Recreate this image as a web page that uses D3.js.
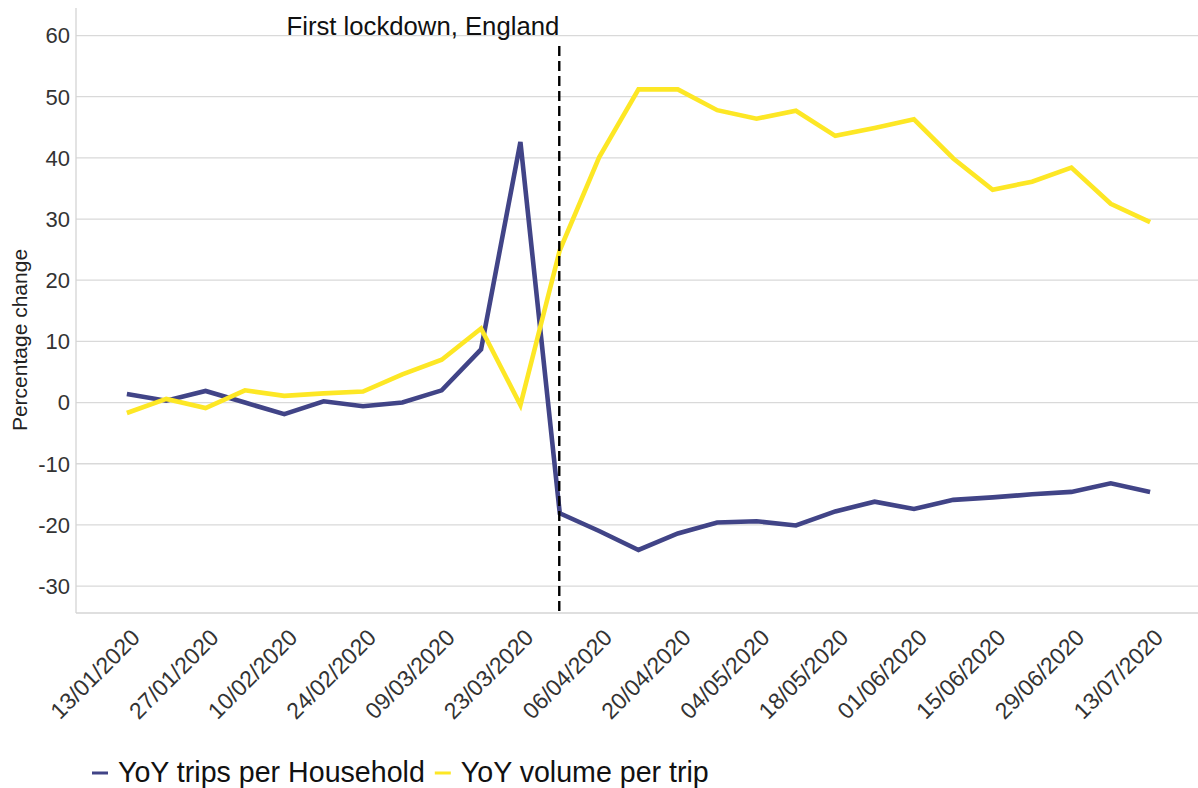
<!DOCTYPE html>
<html>
<head>
<meta charset="utf-8">
<script src="https://cdn.jsdelivr.net/npm/d3@7"></script>
<style>
  html, body { margin: 0; padding: 0; background: #fff; }
  svg { display: block; font-family: "Liberation Sans", Arial, Helvetica, sans-serif; }
</style>
</head>
<body>
<svg id="chart" width="1198" height="788"></svg>
<script>
// ---- Data ----
const weeks = ["13/01/2020","20/01/2020","27/01/2020","03/02/2020","10/02/2020","17/02/2020","24/02/2020",
  "02/03/2020","09/03/2020","16/03/2020","23/03/2020","30/03/2020","06/04/2020","13/04/2020","20/04/2020",
  "27/04/2020","04/05/2020","11/05/2020","18/05/2020","25/05/2020","01/06/2020","08/06/2020","15/06/2020",
  "22/06/2020","29/06/2020","06/07/2020","13/07/2020"];
const tripsPerHousehold = [1.4, 0.3, 1.9, 0.0, -1.9, 0.2, -0.6, 0.0, 2.0, 8.7, 42.6, -18.1, -21.0, -24.1, -21.4,
  -19.6, -19.4, -20.1, -17.8, -16.2, -17.4, -15.9, -15.5, -15.0, -14.6, -13.2, -14.6];
const volumePerTrip = [-1.7, 0.6, -0.9, 2.0, 1.1, 1.5, 1.8, 4.6, 7.0, 12.1, -0.4, 24.9, 40.1, 51.2, 51.2,
  47.8, 46.4, 47.7, 43.6, 44.9, 46.3, 39.9, 34.8, 36.1, 38.4, 32.5, 29.5];
const tickLabels = weeks.filter((d, i) => i % 2 === 0);
const yTicks = [-30, -20, -10, 0, 10, 20, 30, 40, 50, 60];
const seriesNames = ["YoY trips per Household", "YoY volume per trip"];
const lockdownWeek = "30/03/2020";
const lockdownLabel = "First lockdown, England";
const yTitle = "Percentage change";

// ---- Layout ----
const colors = ["#414487", "#FDE725"];
const pL = 76, pR = 1198, pT = 8, pB = 613;
const svg = d3.select("#chart");

const x = d3.scalePoint().domain(weeks).range([pL, pR]).padding(1.255).align(0.515);
const y = d3.scaleLinear().domain([-34.4, 64.5]).range([pB, pT]);

// gridlines
svg.append("g").selectAll("line").data(yTicks).join("line")
  .attr("x1", pL).attr("x2", pR)
  .attr("y1", d => y(d)).attr("y2", d => y(d))
  .attr("stroke", "#d9d9d9").attr("stroke-width", 1.3);

// axis lines
svg.append("line").attr("x1", pL).attr("x2", pL).attr("y1", pT).attr("y2", pB)
  .attr("stroke", "#d4d4d4").attr("stroke-width", 1.3);
svg.append("line").attr("x1", pL).attr("x2", pR).attr("y1", pB).attr("y2", pB)
  .attr("stroke", "#d4d4d4").attr("stroke-width", 1.3);

// y tick labels
svg.append("g").selectAll("text").data(yTicks).join("text")
  .attr("x", 70).attr("y", d => y(d)).attr("dy", "0.36em")
  .attr("text-anchor", "end").attr("font-size", 22).attr("fill", "#333")
  .text(d => d);

// x tick labels
svg.append("g").selectAll("text").data(tickLabels).join("text")
  .attr("transform", d => `translate(${x(d) + 14.5},639) rotate(-45)`)
  .attr("text-anchor", "end").attr("font-size", 23).attr("fill", "#333")
  .text(d => d);

// y title
svg.append("text").attr("transform", "translate(27,340) rotate(-90)")
  .attr("text-anchor", "middle").attr("font-size", 21).attr("fill", "#222")
  .text(yTitle);

// lines
const line = d3.line().x((d, i) => x(weeks[i])).y(d => y(d));
[tripsPerHousehold, volumePerTrip].forEach((s, k) => {
  svg.append("path").datum(s).attr("d", line)
    .attr("fill", "none").attr("stroke", colors[k]).attr("stroke-width", 4.6)
    .attr("stroke-linejoin", "miter");
});

// lockdown line + label
const lx = x(lockdownWeek) - 0.5;
svg.append("line").attr("x1", lx).attr("x2", lx).attr("y1", 46).attr("y2", pB)
  .attr("stroke", "#000").attr("stroke-width", 2.4).attr("stroke-dasharray", "10,5");
svg.append("text").attr("x", lx).attr("y", 35).attr("text-anchor", "end")
  .attr("font-size", 25.7).attr("fill", "#111").text(lockdownLabel);

// legend
const lg = svg.append("g");
let cx = 92;
seriesNames.forEach((name, k) => {
  lg.append("line").attr("x1", cx).attr("x2", cx + 16).attr("y1", 773).attr("y2", 773)
    .attr("stroke", colors[k]).attr("stroke-width", 3);
  const t = lg.append("text").attr("x", cx + 26).attr("y", 782).attr("font-size", 28.6)
    .attr("fill", "#111").text(name);
  cx = cx + 26 + t.node().getComputedTextLength() + 10;
});
</script>
</body>
</html>
